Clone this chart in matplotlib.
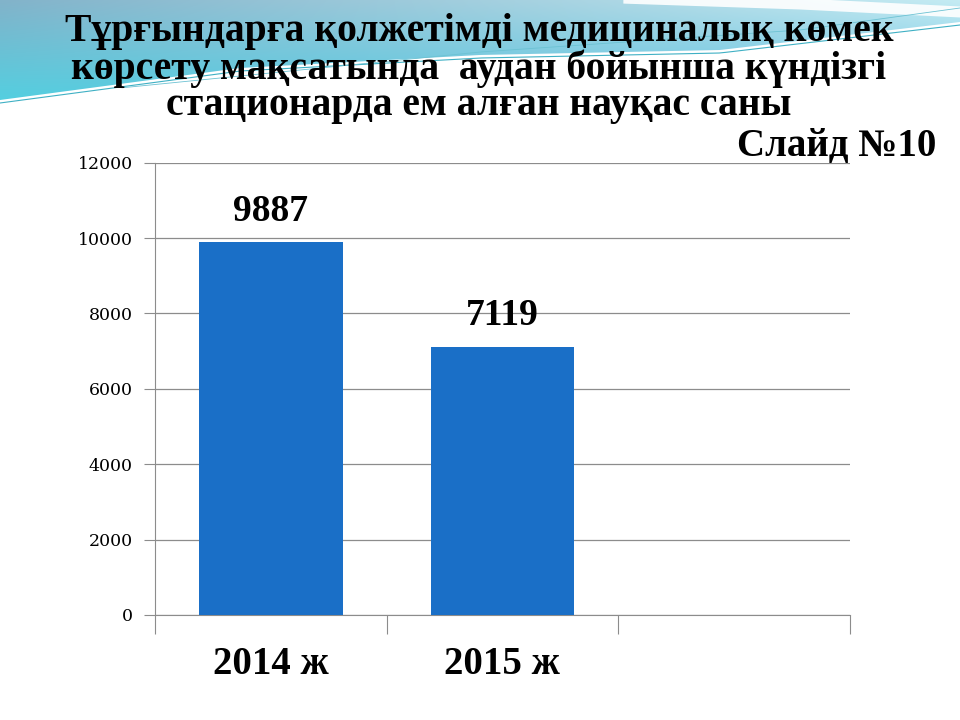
import numpy as np
import matplotlib.pyplot as plt
from matplotlib.colors import to_rgb
from matplotlib.patches import Polygon

categories = ["2014 ж", "2015 ж", ""]
values = [9887, 7119, None]
yticks = [0, 2000, 4000, 6000, 8000, 10000, 12000]
title = ("Тұрғындарға қолжетімді медициналық көмек\n"
         "көрсету мақсатында  аудан бойынша күндізгі\n"
         "стационарда ем алған науқас саны")
slide_label = "Слайд №10"

bar_color = "#1a6fc7"
serif = ["Liberation Serif", "DejaVu Serif"]

fig = plt.figure(figsize=(9.6, 7.2), dpi=100)

# decorative swoosh at the top of the slide (pixel coords, y down)
bg = fig.add_axes([0, 0, 1, 1], zorder=0)
bg.set_xlim(0, 960)
bg.set_ylim(720, 0)
bg.axis("off")
xs = np.linspace(0, 960, 300)
edge = np.interp(xs, [0, 240, 480, 720, 960], [100, 68, 55, 50, 22])
poly = Polygon(np.vstack([np.column_stack([xs, edge]), [[960, 0], [0, 0]]]),
               closed=True, facecolor="none", edgecolor="none")
bg.add_patch(poly)
tl, bl = np.array(to_rgb("#82b3ca")), np.array(to_rgb("#52d0e1"))
tr, br = np.array(to_rgb("#c4ebf3")), np.array(to_rgb("#5fbfe0"))
u = np.linspace(0, 1, 240)[None, :, None]
v = np.linspace(0, 1, 60)[:, None, None]
img = (1 - u) * ((1 - v) * tl + v * bl) + u * ((1 - v) * tr + v * br)
im = bg.imshow(img, extent=[0, 960, 105, 0], aspect="auto", interpolation="bilinear")
im.set_clip_path(poly)
streak = np.interp(xs, [620, 800, 960], [0, 6, 14])
bg.fill_between(xs, streak - 8, streak + 3, where=xs > 620, color="white", alpha=0.9, lw=0)
bg.plot(xs, edge + 3, color="#3fb0c4", lw=0.8)
lx = xs[xs > 120]
bg.plot(lx, np.interp(lx, [120, 480, 800, 960], [88, 52, 30, 8]), color="#6cc2d3", lw=0.6)

ax = fig.add_axes([0.1615, 0.146, 0.7235, 0.628], zorder=1)
ax.patch.set_alpha(0)

bar_x = [i for i, v in enumerate(values) if v is not None]
bar_v = [v for v in values if v is not None]
ax.bar(bar_x, bar_v, width=0.62, color=bar_color, zorder=3)
for xi, v in zip(bar_x, bar_v):
    ax.text(xi, v + 350, str(v), ha="center", va="bottom",
            fontsize=27, fontweight="bold", family=serif)

ax.set_xlim(-0.5, len(categories) - 0.5)
ax.set_ylim(0, 12000)
ax.set_yticks(yticks)
ax.set_yticklabels([str(t) for t in yticks], family=["DejaVu Serif"], fontsize=12.5)
ax.yaxis.grid(True, color="#8c8c8c", lw=0.9, zorder=0)
ax.tick_params(axis="y", length=8, color="#8c8c8c", pad=8)

ax.set_xticks(np.arange(len(categories) + 1) - 0.5)
ax.set_xticklabels([])
ax.tick_params(axis="x", length=14, color="#8c8c8c")
for i, c in enumerate(categories):
    if c:
        ax.text(i, -0.11, c, transform=ax.get_xaxis_transform(), ha="center",
                va="center", fontsize=28, fontweight="bold", family=serif)

for side in ["top", "right"]:
    ax.spines[side].set_visible(False)
ax.spines["left"].set_color("#8c8c8c")
ax.spines["bottom"].set_color("#8c8c8c")

fig.text(0.499, 0.905, title, ha="center", va="center", fontsize=28.5,
         fontweight="bold", family=serif, linespacing=0.98, zorder=5)
fig.text(0.975, 0.797, slide_label, ha="right", va="center", fontsize=28,
         fontweight="bold", family=serif, zorder=5)

fig.savefig("out.png", dpi=100)
